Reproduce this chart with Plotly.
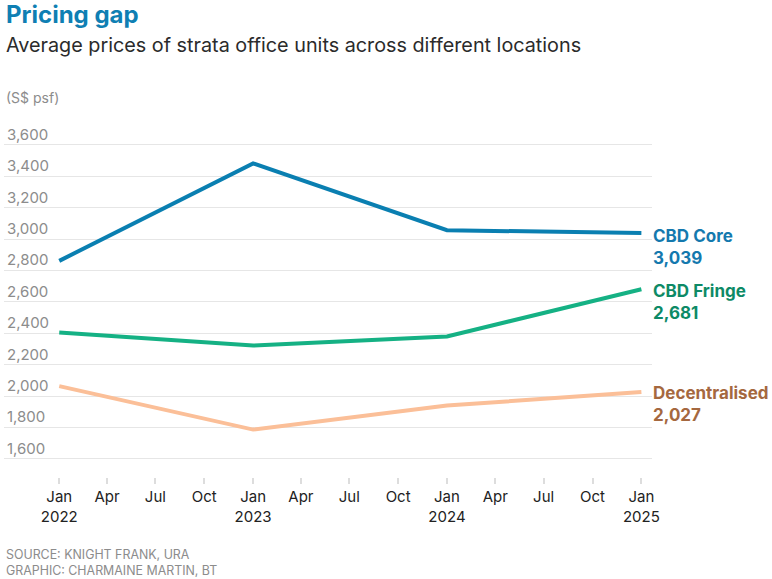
import plotly.graph_objects as go

# values (S$ psf, January of each year)
dates = ["2022-01-01", "2023-01-01", "2024-01-01", "2025-01-01"]
cbd_core = [2862, 3483, 3057, 3039]
cbd_fringe = [2405, 2322, 2380, 2681]
decentralised = [2064, 1787, 1940, 2027]

series_names = ["CBD Core", "CBD Fringe", "Decentralised"]
line_colors = ["#0a7fb1", "#15b184", "#fbbf98"]
label_colors = ["#1479ae", "#0d8a66", "#a5683f"]
label_shifts = [-14, -13, -12]

tick_vals = ["2022-01-01", "2022-04-01", "2022-07-01", "2022-10-01",
             "2023-01-01", "2023-04-01", "2023-07-01", "2023-10-01",
             "2024-01-01", "2024-04-01", "2024-07-01", "2024-10-01",
             "2025-01-01"]
tick_text = ["Jan<br>2022", "Apr", "Jul", "Oct",
             "Jan<br>2023", "Apr", "Jul", "Oct",
             "Jan<br>2024", "Apr", "Jul", "Oct",
             "Jan<br>2025"]

FONT = "Inter"

fig = go.Figure()
for name, vals, col in zip(series_names, [cbd_core, cbd_fringe, decentralised], line_colors):
    fig.add_trace(go.Scatter(x=dates, y=vals, name=name, mode="lines",
                             line=dict(color=col, width=4), hoverinfo="skip"))

# end-of-line labels
for name, vals, col, sh in zip(series_names, [cbd_core, cbd_fringe, decentralised],
                               label_colors, label_shifts):
    fig.add_annotation(x=dates[-1], y=vals[-1], xref="x", yref="y",
                       text=f"<b>{name}<br>{vals[-1]:,}</b>", showarrow=False,
                       xanchor="left", yanchor="middle", xshift=10, yshift=sh,
                       align="left", font=dict(family=FONT, size=17, color=col))

# plot area is 115..477 px tall
def py(px):
    return (477 - px) / 362

fig.add_annotation(x=0, y=py(14), xref="paper", yref="paper", xanchor="left", yanchor="middle",
                   text="<b>Pricing gap</b>", showarrow=False,
                   font=dict(family=FONT, size=24, color="#0f7fb3"))
fig.add_annotation(x=0, y=py(45), xref="paper", yref="paper", xanchor="left", yanchor="middle",
                   text="Average prices of strata office units across different locations",
                   showarrow=False, font=dict(family=FONT, size=19.8, color="#2b2b2b"))
fig.add_annotation(x=0, y=py(97), xref="paper", yref="paper", xanchor="left", yanchor="middle",
                   text="(S$ psf)", showarrow=False,
                   font=dict(family=FONT, size=14, color="#8c8c8c"))
fig.add_annotation(x=0, y=py(562), xref="paper", yref="paper", xanchor="left", yanchor="middle",
                   text="SOURCE: KNIGHT FRANK, URA<br>GRAPHIC: CHARMAINE MARTIN, BT",
                   align="left", showarrow=False,
                   font=dict(family=FONT, size=12.4, color="#8c8c8c"))

fig.update_layout(
    width=772, height=579,
    margin=dict(l=4, r=120, t=115, b=102),
    paper_bgcolor="white", plot_bgcolor="white",
    showlegend=False,
    font=dict(family=FONT),
    xaxis=dict(type="date", range=["2021-09-19", "2025-01-21"],
               tickvals=tick_vals, ticktext=tick_text,
               showgrid=False, zeroline=False, showline=False,
               ticks="outside", ticklen=6, tickwidth=2, tickcolor="#dddddd",
               tickfont=dict(family=FONT, size=15, color="#222222")),
    yaxis=dict(range=[1485, 3791], tick0=0, dtick=200, tickformat=",",
               ticklabelposition="inside top", showgrid=True, gridcolor="#e6e6e6",
               gridwidth=1, zeroline=False, showline=False, ticks="",
               tickfont=dict(family=FONT, size=15, color="#8c8c8c")),
)

fig.write_html("out.html", config={"displayModeBar": False},
               post_script="document.body.style.margin = '0';")
